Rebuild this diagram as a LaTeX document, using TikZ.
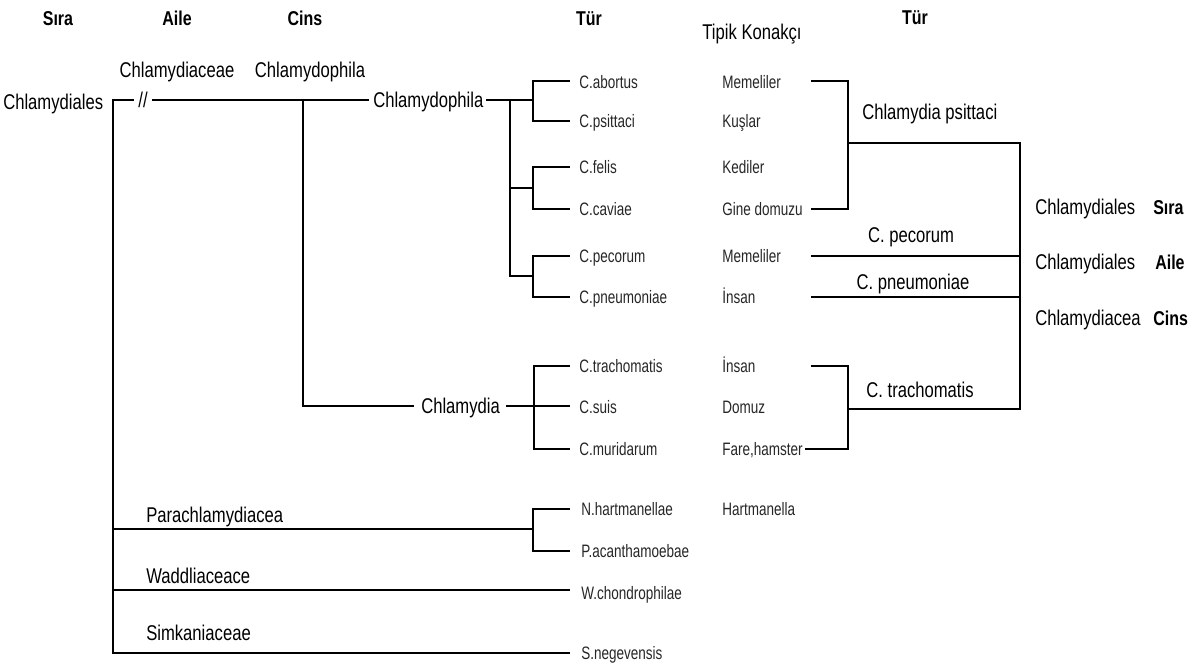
\documentclass[tikz,border=0pt]{standalone}
\usepackage{fontspec}
\setmainfont[FakeStretch=0.78]{Liberation Sans}
\newfontfamily\spfont[FakeStretch=0.75]{Liberation Sans}
\newfontfamily\hdfont[FakeStretch=0.8]{Liberation Sans Bold}
\begin{document}
\begin{tikzpicture}[x=0.75pt,y=-0.75pt,
  lbl/.style={inner sep=0pt,font=\fontsize{16pt}{19pt}\selectfont,text height=11.5pt,text depth=0pt},
  sp/.style={inner sep=0pt,font=\spfont\fontsize{13.5pt}{16pt}\selectfont,text height=9.7pt,text depth=0pt,text=black!85,anchor=west},
  hd/.style={inner sep=0pt,font=\hdfont\fontsize{15pt}{18pt}\selectfont,text height=10.8pt,text depth=0pt},
  ln/.style={line width=1.8pt,line cap=rect}]
\useasboundingbox (0,0) rectangle (1198,669);
% headers
\node[hd] (hSira) at (58,18) {Sıra};
\node[hd] (hAile) at (177,18) {Aile};
\node[hd] (hCins) at (305,18) {Cins};
\node[hd] (hTur) at (589,18) {Tür};
\node[lbl] (hTipik) at (752,32) {Tipik Konakçı};
\node[hd] (hTur2) at (915,17) {Tür};
% top level
\node[lbl,anchor=west] (chlOrd) at (3,102) {Chlamydiales};
\node[lbl] (chlFam) at (177,70) {Chlamydiaceae};
\node[lbl] (chlGenTop) at (310,70) {Chlamydophila};
\node[lbl] (brk) at (143,100) {//};
\node[lbl,anchor=west] (chlGen) at (373,100) {Chlamydophila};
\node[lbl,anchor=west] (chlmy) at (421,406) {Chlamydia};
\coordinate (root) at (113,100);
\coordinate (rootEnd) at (113,653);
\coordinate (cinsJ) at (303,100);
\coordinate (cinsB) at (303,406);
\draw[ln] (root) -- (133,100);
\draw[ln] (153,100) -- (cinsJ) -- (368,100);
\draw[ln] (root) -- (rootEnd);
\draw[ln] (cinsJ) -- (cinsB) -- (413,406);
% Chlamydophila subtree
\coordinate (pJ) at (510,100);
\coordinate (pJb) at (510,276);
\draw[ln] (487,100) -- (pJ) -- (533,100);
\draw[ln] (pJ) -- (pJb) -- (533,276);
\draw[ln] (510,188) -- (533,188);
\draw[ln] (569,81) -- (533,81) -- (533,121) -- (569,121);
\draw[ln] (569,167) -- (533,167) -- (533,209) -- (569,209);
\draw[ln] (569,256) -- (533,256) -- (533,297) -- (569,297);
\node[sp] (sAb) at (579,82) {C.abortus};
\node[sp] (sPs) at (579,121) {C.psittaci};
\node[sp] (sFe) at (579,167) {C.felis};
\node[sp] (sCa) at (579,209) {C.caviae};
\node[sp] (sPe) at (579,256) {C.pecorum};
\node[sp] (sPn) at (579,297) {C.pneumoniae};
\node[sp] (hAb) at (722,82) {Memeliler};
\node[sp] (hPs) at (722,121) {Kuşlar};
\node[sp] (hFe) at (722,167) {Kediler};
\node[sp] (hCa) at (722,209) {Gine domuzu};
\node[sp] (hPe) at (722,256) {Memeliler};
\node[sp] (hPn) at (722,297) {İnsan};
% Chlamydia subtree
\draw[ln] (507,406) -- (569,406);
\draw[ln] (569,366) -- (534,366) -- (534,449) -- (569,449);
\node[sp] (sTr) at (579,366) {C.trachomatis};
\node[sp] (sSu) at (579,407) {C.suis};
\node[sp] (sMu) at (579,449) {C.muridarum};
\node[sp] (hTr) at (722,366) {İnsan};
\node[sp] (hSu) at (722,407) {Domuz};
\node[sp] (hMu) at (722,449) {Fare,hamster};
% right side
\coordinate (rA) at (848,143);
\coordinate (rTop) at (1020,143);
\coordinate (rBot) at (1020,409);
\draw[ln] (812,81) -- (848,81) -- (848,209) -- (812,209);
\draw[ln] (rA) -- (rTop) -- (rBot);
\draw[ln] (812,256) -- (1020,256);
\draw[ln] (812,297) -- (1020,297);
\draw[ln] (812,366) -- (848,366) -- (848,449) -- (806,449);
\draw[ln] (848,409) -- (rBot);
\node[lbl,anchor=west] (tPs) at (862,112) {Chlamydia psittaci};
\node[lbl] (tPe) at (911,235) {C. pecorum};
\node[lbl] (tPn) at (913,282) {C. pneumoniae};
\node[lbl] (tTr) at (920,390) {C. trachomatis};
\node[lbl,anchor=west] (r1) at (1035,207) {Chlamydiales};
\node[hd,anchor=west] (r1b) at (1153,207) {Sıra};
\node[lbl,anchor=west] (r2) at (1035,262) {Chlamydiales};
\node[hd,anchor=west] (r2b) at (1155,262) {Aile};
\node[lbl,anchor=west] (r3) at (1035,318) {Chlamydiacea};
\node[hd,anchor=west] (r3b) at (1153,318) {Cins};
% lower families
\draw[ln] (113,529) -- (533,529);
\draw[ln] (569,509) -- (533,509) -- (533,551) -- (569,551);
\draw[ln] (113,590) -- (569,590);
\draw[ln] (rootEnd) -- (569,653);
\node[lbl,anchor=west] (fPa) at (146,515) {Parachlamydiacea};
\node[lbl,anchor=west] (fWa) at (146,576) {Waddliaceace};
\node[lbl,anchor=west] (fSi) at (146,633) {Simkaniaceae};
\node[sp] (sNh) at (581,509) {N.hartmanellae};
\node[sp] (sPa) at (581,551) {P.acanthamoebae};
\node[sp] (sWc) at (581,593) {W.chondrophilae};
\node[sp] (sSn) at (581,653) {S.negevensis};
\node[sp] (hNh) at (722,509) {Hartmanella};
\end{tikzpicture}
\end{document}
